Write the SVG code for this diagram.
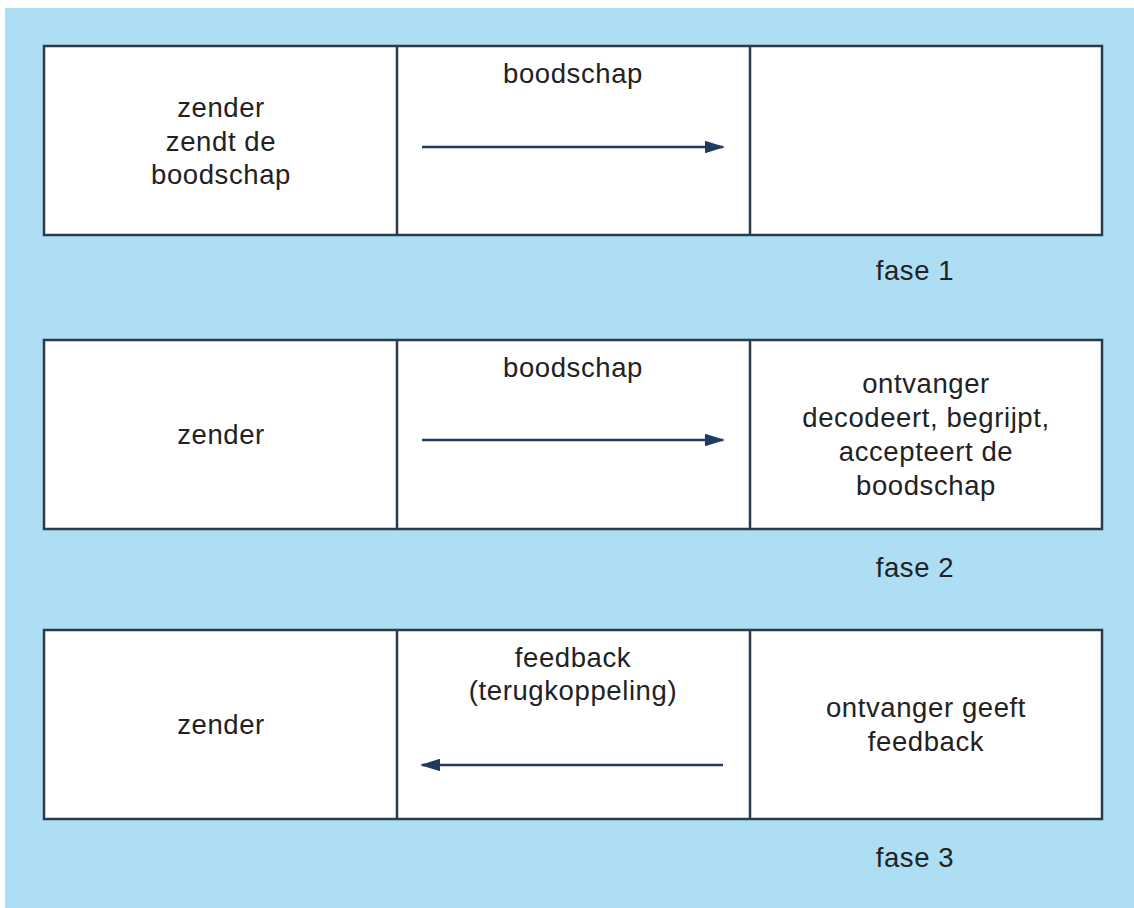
<svg xmlns="http://www.w3.org/2000/svg" width="1134" height="908" viewBox="0 0 1134 908">
<style>
.box{fill:#ffffff;stroke:#2b3a4c;stroke-width:2.5}
.div{stroke:#2b3a4c;stroke-width:2.5}
.t{font-family:"Liberation Sans",Arial,sans-serif;font-size:27.5px;letter-spacing:0.6px;fill:#222222;text-anchor:middle}
.arr{stroke:#1f3b5e;stroke-width:2.5;fill:none}
</style>
<defs>
<marker id="ah" viewBox="0 0 10 10" refX="9" refY="5" markerWidth="8" markerHeight="5" markerUnits="strokeWidth" orient="auto" preserveAspectRatio="none">
<path d="M0,0 L10,5 L0,10 z" fill="#1f3b5e"/>
</marker>
</defs>
<rect x="0" y="0" width="1134" height="908" fill="#ffffff"/>
<rect x="5" y="8" width="1129" height="900" fill="#addef4"/>

<g id="phase1">
<rect class="box" x="44" y="46" width="1058" height="189"/>
<line class="div" x1="397" y1="46" x2="397" y2="235"/>
<line class="div" x1="750" y1="46" x2="750" y2="235"/>
<g id="p1-zender"><text class="t" x="221" y="117">zender</text><text class="t" x="221" y="151">zendt de</text><text class="t" x="221" y="184">boodschap</text></g>
<g id="p1-msg"><text class="t" x="573" y="83">boodschap</text></g>
<g id="p1-ontvanger"></g>
<text id="fase1" class="t" x="915" y="280">fase 1</text>
</g>

<g id="phase2">
<rect class="box" x="44" y="340" width="1058" height="189"/>
<line class="div" x1="397" y1="340" x2="397" y2="529"/>
<line class="div" x1="750" y1="340" x2="750" y2="529"/>
<g id="p2-zender"><text class="t" x="221" y="444">zender</text></g>
<g id="p2-msg"><text class="t" x="573" y="377">boodschap</text></g>
<g id="p2-ontvanger"><text class="t" x="926" y="393">ontvanger</text><text class="t" x="926" y="427">decodeert, begrijpt,</text><text class="t" x="926" y="461">accepteert de</text><text class="t" x="926" y="495">boodschap</text></g>
<text id="fase2" class="t" x="915" y="577">fase 2</text>
</g>

<g id="phase3">
<rect class="box" x="44" y="630" width="1058" height="189"/>
<line class="div" x1="397" y1="630" x2="397" y2="819"/>
<line class="div" x1="750" y1="630" x2="750" y2="819"/>
<g id="p3-zender"><text class="t" x="221" y="734">zender</text></g>
<g id="p3-msg"><text class="t" x="573" y="667">feedback</text><text class="t" x="573" y="700">(terugkoppeling)</text></g>
<g id="p3-ontvanger"><text class="t" x="926" y="717">ontvanger geeft</text><text class="t" x="926" y="751">feedback</text></g>
<text id="fase3" class="t" x="915" y="867">fase 3</text>
</g>

<g id="connectors">
<line class="arr" x1="422" y1="147" x2="723" y2="147" marker-end="url(#ah)"/>
<line class="arr" x1="422" y1="440" x2="723" y2="440" marker-end="url(#ah)"/>
<line class="arr" x1="723" y1="765" x2="422" y2="765" marker-end="url(#ah)"/>
</g>
</svg>
